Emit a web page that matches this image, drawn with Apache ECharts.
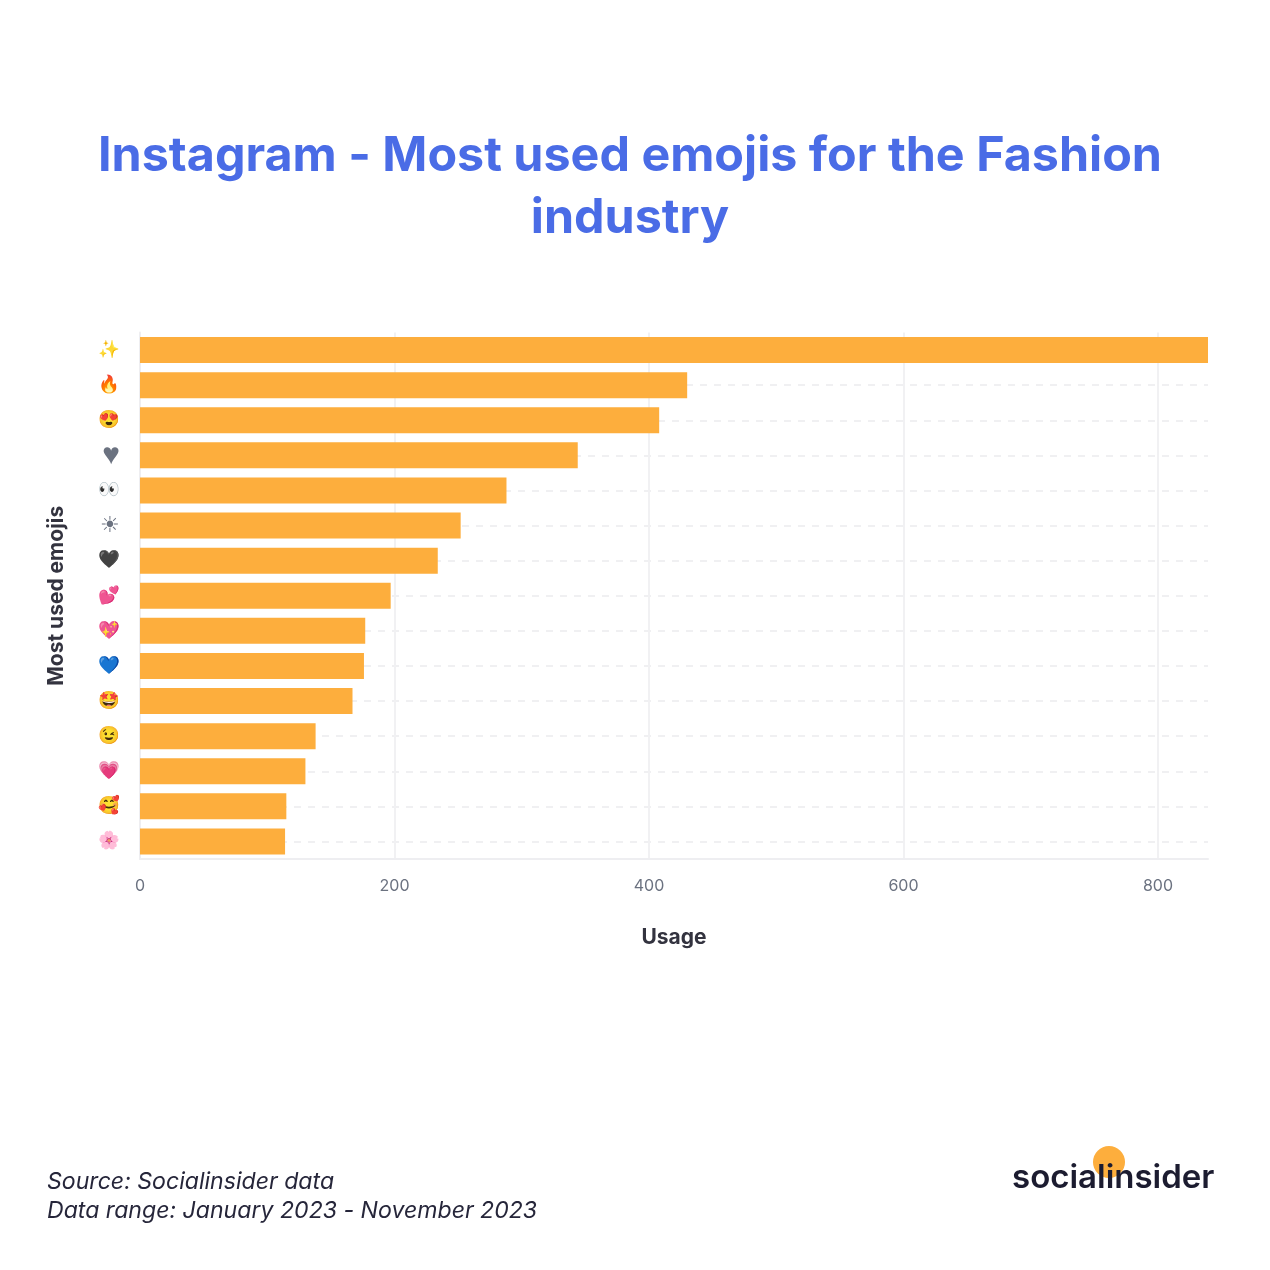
<!DOCTYPE html>
<html><head><meta charset="utf-8"><style>html,body{margin:0;background:#fff}#c{width:1270px;height:1270px}</style>
<script src="https://cdn.jsdelivr.net/npm/echarts@6/dist/echarts.min.js"></script></head><body><div id="c"></div><script>
const emojis=["✨","🔥","😍","♥","👀","☀","🖤","💕","💖","💙","🤩","😉","💗","🥰","🌸"];
const usage=[840,430,408,344,288,252,234,197,177,176,167,138,130,115,114];
const ticks=[0,200,400,600,800];
const enlarged={"♥":30,"☀":22};
const chart=echarts.init(document.getElementById('c'),null,{renderer:'canvas'});
chart.setOption({
 animation:false,
 title:[
  {text:'Instagram - Most used emojis for the Fashion\nindustry',left:625,top:120,textAlign:'center',textStyle:{fontFamily:'Inter',fontSize:48.4,fontWeight:700,color:'#4A6CE6',lineHeight:62}},
  {text:'Source: Socialinsider data\nData range: January 2023 - November 2023',left:42,top:1163,textStyle:{fontFamily:'Inter',fontSize:23.1,fontStyle:'italic',fontWeight:400,color:'#26263a',lineHeight:29}}
 ],
 grid:{left:140,right:62,top:332.5,height:526.5,containLabel:false},
 xAxis:{type:'value',min:0,max:839.3,interval:200,name:'Usage',nameLocation:'middle',nameGap:68,
  nameTextStyle:{fontFamily:'Inter',fontSize:21,fontWeight:700,color:'#33333f'},
  axisLabel:{fontFamily:'Inter',fontSize:16,color:'#6b7280',margin:19,showMaxLabel:false},
  axisLine:{show:true,lineStyle:{color:'#eeeef1',width:2}},axisTick:{show:false},
  splitLine:{show:true,showMaxLine:false,lineStyle:{color:'#f1f1f3',width:2}}},
 yAxis:{type:'category',inverse:true,
  data:emojis.map(e=>enlarged[e]?{value:e,textStyle:{fontSize:enlarged[e],padding:[0,0,0,0]}}:e),
  name:'Most used emojis',nameLocation:'middle',nameGap:73,
  nameTextStyle:{fontFamily:'Inter',fontSize:21,fontWeight:700,color:'#33333f'},
  axisLabel:{fontSize:17.5,margin:20,color:'#6b7280',align:'right'},
  axisLine:{show:true,lineStyle:{color:'#eeeef1',width:2}},axisTick:{show:false},
  splitLine:{show:true,alignWithLabel:true,lineStyle:{color:'#f0f0f2',width:2,type:[7,7]}}},
 series:[{type:'bar',data:usage,barWidth:26,clip:true,itemStyle:{color:'#FDAE3D'}}],
 graphic:[
  {type:'circle',shape:{cx:1109,cy:1162,r:16},style:{fill:'#FDAE3D'},z:1},
  {type:'text',left:1012,top:1162,z:2,style:{text:'socialinsider',fontFamily:'Inter',fontSize:33,fontWeight:600,fill:'#1c1c30'}}
 ]
});
</script></body></html>
